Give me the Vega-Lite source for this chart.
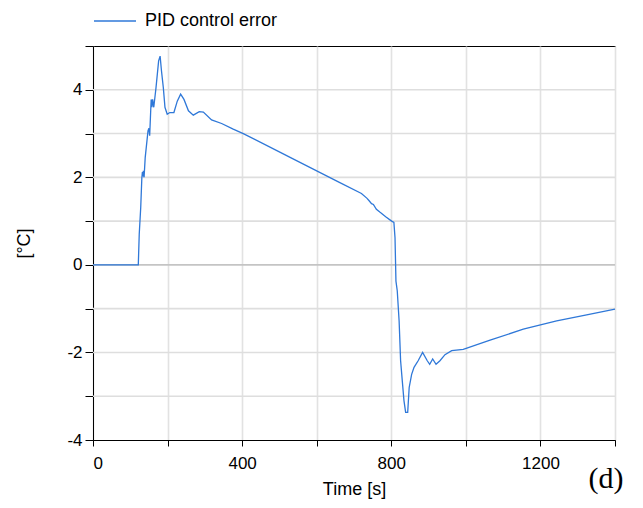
{
  "$schema": "https://vega.github.io/schema/vega-lite/v6.json",
  "width": 522,
  "height": 394,
  "autosize": "none",
  "padding": {"left": 93, "top": 46, "right": 28, "bottom": 68},
  "background": "white",
  "config": {
    "view": {"stroke": "black", "strokeWidth": 1},
    "font": "Liberation Sans"
  },
  "title": {
    "text": "(d)",
    "orient": "bottom",
    "anchor": "end",
    "font": "Liberation Serif",
    "fontSize": 30,
    "fontWeight": "normal",
    "color": "black",
    "offset": -34,
    "dx": 6
  },
  "datasets": {
    "grid": [
      {"g": -3}, {"g": -2}, {"g": -1}, {"g": 0}, {"g": 1}, {"g": 2}, {"g": 3}, {"g": 4}
    ],
    "series": [
      {"t": 0, "v": 0}, {"t": 121.5, "v": 0}, {"t": 124, "v": 0.7}, {"t": 128, "v": 1.31},
      {"t": 131, "v": 1.99}, {"t": 132.5, "v": 2.12}, {"t": 134, "v": 2.02}, {"t": 135, "v": 2.15}, {"t": 137, "v": 2.0}, {"t": 140, "v": 2.45},
      {"t": 147.5, "v": 3.06}, {"t": 150, "v": 3.12}, {"t": 152, "v": 2.95}, {"t": 156, "v": 3.78},
      {"t": 158, "v": 3.6}, {"t": 160, "v": 3.78}, {"t": 163, "v": 3.6}, {"t": 169, "v": 4.05}, {"t": 176, "v": 4.66},
      {"t": 180, "v": 4.77}, {"t": 183.7, "v": 4.43}, {"t": 188.6, "v": 4.05}, {"t": 193, "v": 3.6},
      {"t": 199, "v": 3.44}, {"t": 206, "v": 3.48}, {"t": 217, "v": 3.48}, {"t": 226, "v": 3.74},
      {"t": 235, "v": 3.9}, {"t": 244, "v": 3.78}, {"t": 256, "v": 3.52}, {"t": 269, "v": 3.42},
      {"t": 285, "v": 3.5}, {"t": 296, "v": 3.49}, {"t": 318, "v": 3.31}, {"t": 345, "v": 3.23},
      {"t": 376, "v": 3.1}, {"t": 403, "v": 3.0}, {"t": 530, "v": 2.45}, {"t": 662, "v": 1.88},
      {"t": 720, "v": 1.63}, {"t": 735, "v": 1.52}, {"t": 740, "v": 1.47}, {"t": 747, "v": 1.4}, {"t": 752, "v": 1.38},
      {"t": 760, "v": 1.27}, {"t": 770, "v": 1.2}, {"t": 785, "v": 1.1}, {"t": 801, "v": 1.0},
      {"t": 807, "v": 0.97}, {"t": 810, "v": 0.62}, {"t": 812.5, "v": -0.37}, {"t": 816, "v": -0.59},
      {"t": 821, "v": -1.28}, {"t": 825, "v": -2.19}, {"t": 829.5, "v": -2.65}, {"t": 834, "v": -3.1},
      {"t": 838.5, "v": -3.37}, {"t": 844, "v": -3.37}, {"t": 848, "v": -2.8}, {"t": 854.6, "v": -2.5},
      {"t": 861, "v": -2.34}, {"t": 872, "v": -2.19}, {"t": 884, "v": -2.0}, {"t": 896.5, "v": -2.19},
      {"t": 903, "v": -2.27}, {"t": 911, "v": -2.15}, {"t": 920, "v": -2.27}, {"t": 930.5, "v": -2.19},
      {"t": 944, "v": -2.05}, {"t": 962, "v": -1.96}, {"t": 993, "v": -1.93}, {"t": 1065, "v": -1.72},
      {"t": 1154, "v": -1.47}, {"t": 1243.5, "v": -1.28}, {"t": 1324, "v": -1.14}, {"t": 1400, "v": -1.01}
    ]
  },
  "layer": [
    {
      "data": {"name": "grid"},
      "mark": {"type": "rule"},
      "encoding": {
        "y": {
          "field": "g", "type": "quantitative",
          "scale": {"domain": [-4, 5], "nice": false, "zero": false}
        },
        "color": {"condition": {"test": "datum.g == 0", "value": "#c4c4c4"}, "value": "#dedede"},
        "strokeWidth": {"condition": {"test": "datum.g == 0", "value": 1.8}, "value": 1.6}
      }
    },
    {
      "data": {"name": "series"},
      "mark": {"type": "line", "strokeWidth": 1.3, "interpolate": "linear"},
      "encoding": {
        "x": {
          "field": "t", "type": "quantitative",
          "scale": {"domain": [0, 1400], "nice": false, "zero": false},
          "axis": {
            "title": "Time [s]",
            "grid": true,
            "values": [0, 200, 400, 600, 800, 1000, 1200, 1400],
            "labelExpr": "datum.value % 400 == 0 && datum.value < 1400 ? toString(datum.value) : ''",
            "domainColor": "black",
            "tickColor": "black",
            "tickSize": 6,
            "labelPadding": 9,
            "labelFontSize": 17,
            "labelColor": "black",
            "titleFontSize": 18,
            "titleFontWeight": "normal",
            "titleColor": "black",
            "titlePadding": 9,
            "gridColor": "#e2e2e2",
            "gridWidth": 1.6
          }
        },
        "y": {
          "field": "v", "type": "quantitative",
          "scale": {"domain": [-4, 5], "nice": false, "zero": false},
          "axis": {
            "title": "[°C]",
            "grid": false,
            "values": [-4, -3, -2, -1, 0, 1, 2, 3, 4, 5],
            "labelExpr": "datum.value % 2 == 0 ? toString(datum.value) : ''",
            "domainColor": "black",
            "tickColor": "black",
            "tickSize": 8,
            "labelPadding": 3,
            "labelFontSize": 17,
            "labelColor": "black",
            "titleFontSize": 18,
            "titleFontWeight": "normal",
            "titleColor": "black",
            "titleX": -60,
            "titleY": 197
          }
        },
        "color": {
          "datum": "PID control error",
          "type": "nominal",
          "scale": {"range": ["#2f78d8"]},
          "legend": {
            "title": null,
            "orient": "none",
            "legendX": 0,
            "legendY": -47,
            "padding": 0,
            "symbolType": "stroke",
            "symbolSize": 1764,
            "symbolStrokeWidth": 1.3,
            "labelFontSize": 18,
            "labelColor": "black",
            "labelOffset": 8
          }
        }
      }
    }
  ]
}
